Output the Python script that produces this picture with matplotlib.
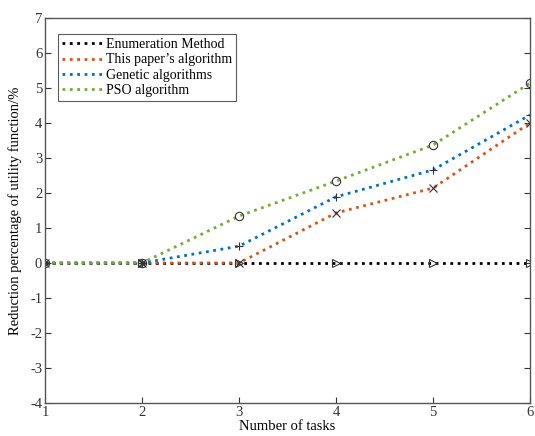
import matplotlib.pyplot as plt

plt.rcParams['font.family'] = ['Liberation Serif', 'DejaVu Serif']
plt.rcParams['axes.unicode_minus'] = False

tasks = [1, 2, 3, 4, 5, 6]
enum_vals = [0, 0, 0, 0, 0, 0]
paper_vals = [0, 0, 0, 1.43, 2.14, 4.0]
ga_vals = [0, 0, 0.48, 1.89, 2.66, 4.23]
pso_vals = [0, 0, 1.34, 2.34, 3.37, 5.14]

labels = ['Enumeration Method', 'This paper\u2019s algorithm', 'Genetic algorithms', 'PSO algorithm']
colors = ['#000000', '#D95319', '#0072BD', '#77AC30']
markers = ['>', 'x', '+', 'o']

fig = plt.figure(figsize=(5.35, 4.36), dpi=100)
ax = fig.add_axes([0.0841, 0.0757, 0.9065, 0.883])

series = [enum_vals, paper_vals, ga_vals, pso_vals]
for vals, lab, c in zip(series, labels, colors):
    ax.plot(tasks, vals, linestyle=':', linewidth=2, color=c, label=lab)
for vals, m in zip(series, markers):
    ax.plot(tasks, vals, linestyle='none', marker=m, markersize=6,
            markerfacecolor='none', markeredgecolor='#333333', markeredgewidth=0.8)

ax.set_xlim(1, 6)
ax.set_ylim(-4, 7)
ax.set_xticks(tasks)
ax.set_yticks(range(-4, 8))
ax.tick_params(direction='in', labelsize=10.5, length=4, colors='#333333', right=True, top=False, pad=2)
for s in ax.spines.values():
    s.set_color('#555555')
    s.set_linewidth(1)

ax.set_xlabel('Number of tasks', fontsize=10.5, labelpad=1)
ax.set_ylabel('Reduction percentage of utility function/%', fontsize=10.5, labelpad=6)

leg = ax.legend(loc='upper left', bbox_to_anchor=(0.027, 0.958), fontsize=10, frameon=True,
                fancybox=False, edgecolor='#333333', handlelength=3.0, handletextpad=0.15,
                labelspacing=0.15, borderpad=0.3, borderaxespad=0)
leg.get_frame().set_linewidth(0.8)

fig.savefig('out.png', dpi=100)
